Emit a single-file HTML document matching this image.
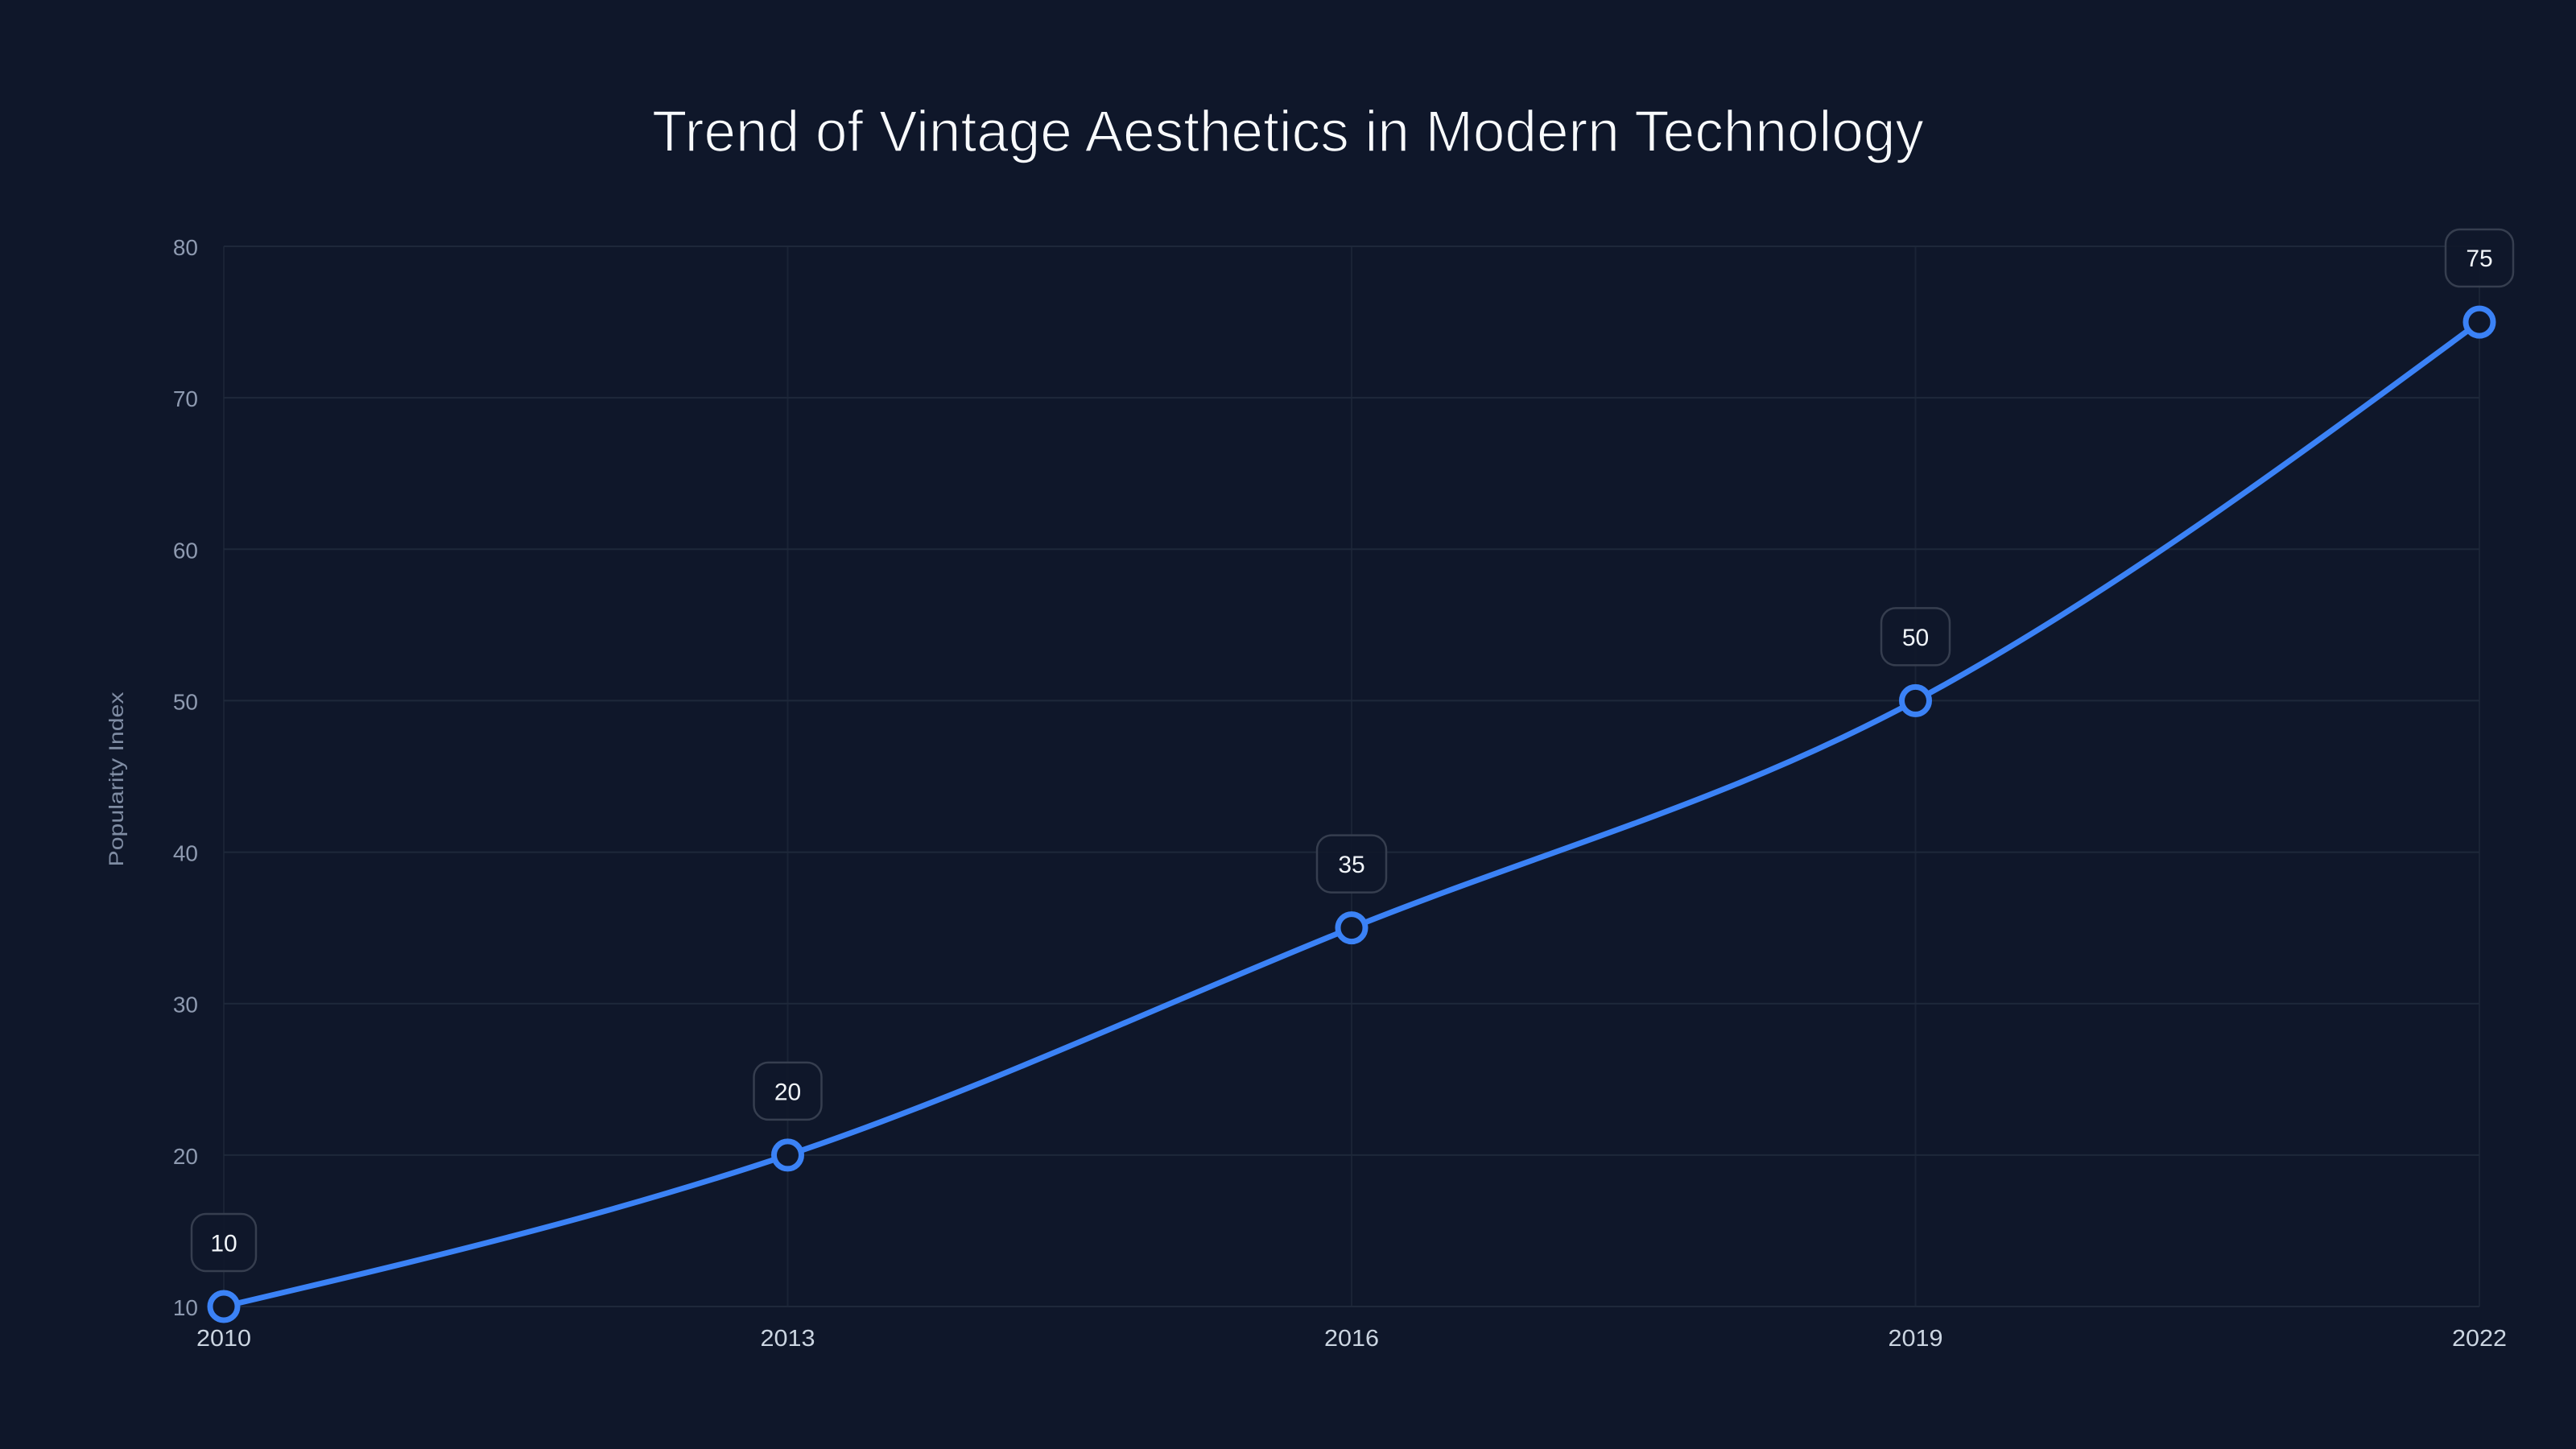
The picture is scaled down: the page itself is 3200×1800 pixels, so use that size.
<!DOCTYPE html>
<html>
<head>
<meta charset="utf-8">
<style>
  html, body { margin: 0; padding: 0; background: #0f172a; }
  svg { display: block; }
  text { font-family: "Liberation Sans", "DejaVu Sans", sans-serif; }
</style>
</head>
<body>
<svg width="3200" height="1800" viewBox="0 0 3200 1800" xmlns="http://www.w3.org/2000/svg">
  <rect x="0" y="0" width="3200" height="1800" fill="#0f172a"/>

  <!-- Title -->
  <text x="1600" y="188" text-anchor="middle" font-size="72" fill="#f8fafc" stroke="#0f172a" stroke-width="1.6" paint-order="fill stroke" textLength="1580" lengthAdjust="spacingAndGlyphs">Trend of Vintage Aesthetics in Modern Technology</text>

  <!-- Vertical gridlines -->
  <g stroke="#1a2335" stroke-width="2">
    <line x1="278" y1="306" x2="278" y2="1623"/>
    <line x1="978.5" y1="306" x2="978.5" y2="1623"/>
    <line x1="1679" y1="306" x2="1679" y2="1623"/>
    <line x1="2379.5" y1="306" x2="2379.5" y2="1623"/>
    <line x1="3080" y1="306" x2="3080" y2="1623"/>
  </g>

  <!-- Horizontal gridlines -->
  <g stroke="#1e283a" stroke-width="2">
    <line x1="278" y1="306" x2="3080" y2="306"/>
    <line x1="278" y1="494.1" x2="3080" y2="494.1"/>
    <line x1="278" y1="682.3" x2="3080" y2="682.3"/>
    <line x1="278" y1="870.4" x2="3080" y2="870.4"/>
    <line x1="278" y1="1058.6" x2="3080" y2="1058.6"/>
    <line x1="278" y1="1246.7" x2="3080" y2="1246.7"/>
    <line x1="278" y1="1434.9" x2="3080" y2="1434.9"/>
    <line x1="278" y1="1623" x2="3080" y2="1623"/>
  </g>

  <!-- Y tick labels -->
  <g font-size="28" fill="#8e9ab0" text-anchor="end">
    <text x="246" y="317">80</text>
    <text x="246" y="505.1">70</text>
    <text x="246" y="693.3">60</text>
    <text x="246" y="881.4">50</text>
    <text x="246" y="1069.6">40</text>
    <text x="246" y="1257.7">30</text>
    <text x="246" y="1445.9">20</text>
    <text x="246" y="1634">10</text>
  </g>

  <!-- X tick labels -->
  <g font-size="29" fill="#cbd5e1" text-anchor="middle">
    <text x="278" y="1672" textLength="68" lengthAdjust="spacingAndGlyphs">2010</text>
    <text x="978.5" y="1672" textLength="68" lengthAdjust="spacingAndGlyphs">2013</text>
    <text x="1679" y="1672" textLength="68" lengthAdjust="spacingAndGlyphs">2016</text>
    <text x="2379.5" y="1672" textLength="68" lengthAdjust="spacingAndGlyphs">2019</text>
    <text x="3080" y="1672" textLength="68" lengthAdjust="spacingAndGlyphs">2022</text>
  </g>

  <!-- Y axis title -->
  <text transform="translate(153,968) rotate(-90)" text-anchor="middle" font-size="25" fill="#7f8ca3" textLength="217" lengthAdjust="spacingAndGlyphs">Popularity Index</text>

  <!-- Line (monotone cubic) -->
  <path d="M278,1623 C511.5,1568.1 745,1513.3 978.5,1434.9 C1212,1356.5 1445.5,1246.7 1679,1152.6 C1912.5,1058.6 2146,995.9 2379.5,870.4 C2613,745 2846.5,572.5 3080,400.1"
        fill="none" stroke="#3b82f6" stroke-width="7" stroke-linejoin="round" stroke-linecap="round"/>

  <!-- Markers -->
  <g fill="#0f172a" stroke="#3b82f6" stroke-width="7">
    <circle cx="278" cy="1623" r="17"/>
    <circle cx="978.5" cy="1434.9" r="17"/>
    <circle cx="1679" cy="1152.6" r="17"/>
    <circle cx="2379.5" cy="870.4" r="17"/>
    <circle cx="3080" cy="400.1" r="17"/>
  </g>

  <!-- Value labels -->
  <g fill="#0f172a" fill-opacity="0.9" stroke="#363e4f" stroke-width="2.5">
    <rect x="238" y="1508" width="80" height="71" rx="18"/>
    <rect x="936.5" y="1319.9" width="84" height="71" rx="18"/>
    <rect x="1636" y="1037.6" width="86" height="71" rx="18"/>
    <rect x="2337" y="755.4" width="85" height="71" rx="18"/>
    <rect x="3038" y="285" width="84" height="71" rx="18"/>
  </g>
  <g font-size="30" fill="#f1f5f9" text-anchor="middle">
    <text x="278" y="1554.5">10</text>
    <text x="978.5" y="1366.4">20</text>
    <text x="1679" y="1084.1">35</text>
    <text x="2379.5" y="801.9">50</text>
    <text x="3080" y="331">75</text>
  </g>
</svg>
</body>
</html>
